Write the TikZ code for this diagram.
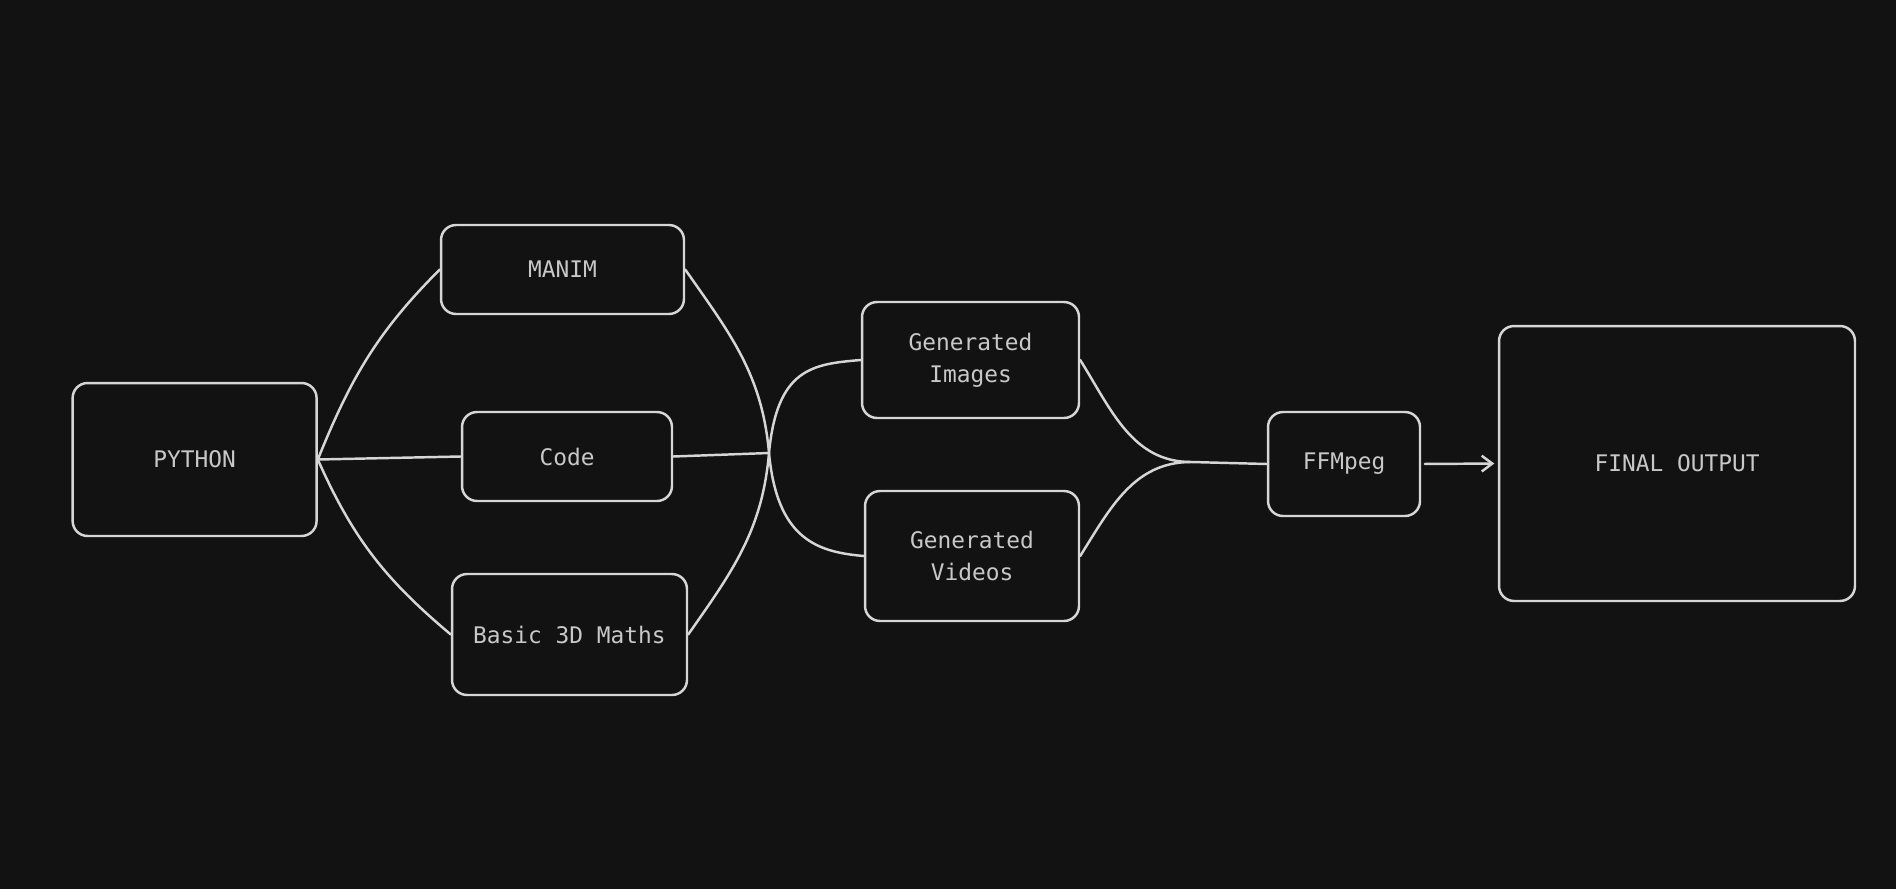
\documentclass[tikz,border=0pt]{standalone}
\usepackage{fontspec}
\setmonofont{DejaVu Sans Mono}
\usetikzlibrary{arrows.meta}
\definecolor{bgdark}{HTML}{121212}
\definecolor{inkgray}{HTML}{D6D6D6}
\definecolor{txtgray}{HTML}{C8C8C8}
\begin{document}
\begin{tikzpicture}[x=0.02cm,y=-0.02cm,line width=1.4pt,line cap=round]
	\tikzset{box/.style={draw=inkgray,rounded corners=0.3cm,inner sep=0pt,align=center,
			text=txtgray,font=\ttfamily\fontsize{13}{18}\selectfont}}
	\fill[bgdark] (0,0) rectangle (1896,889);
	\useasboundingbox (0,0) rectangle (1896,889);
	% boxes
	\node[box,minimum width=4.88cm,minimum height=3.06cm] (python) at (194.6,459.5) {PYTHON};
	\node[box,minimum width=4.86cm,minimum height=1.78cm] (manim) at (562.5,269.5) {MANIM};
	\node[box,minimum width=4.2cm,minimum height=1.78cm] (code) at (567,456.5) {Code};
	\node[box,minimum width=4.7cm,minimum height=2.42cm] (maths) at (569.5,634.5) {Basic 3D Maths};
	\node[box,minimum width=4.34cm,minimum height=2.32cm] (images) at (970.5,360) {Generated\\Images};
	\node[box,minimum width=4.28cm,minimum height=2.6cm] (videos) at (972,556) {Generated\\Videos};
	\node[box,minimum width=3.04cm,minimum height=2.08cm] (ffmpeg) at (1344,464) {FFMpeg};
	\node[box,minimum width=7.12cm,minimum height=5.5cm] (final) at (1677,463.5) {FINAL OUTPUT};
	\coordinate (joinA) at (769,453);
	\coordinate (joinB) at (1191,462);
	% connectors
	\begin{scope}[draw=inkgray]
		\draw (python.east) to[out=68,in=-135] (manim.west);
		\draw (python.east) -- (code.west);
		\draw (python.east) to[out=-66,in=140] (maths.west);
		\draw (manim.east) to[out=-55,in=95] (joinA);
		\draw (code.east) -- (joinA);
		\draw (maths.east) to[out=55,in=-95] (joinA);
		\draw (joinA) .. controls +(8,-85) and +(-48,4) .. (images.west);
		\draw (joinA) .. controls +(8,85) and +(-48,-4) .. (videos.west);
		\draw (images.east) to[out=-58,in=180] (joinB);
		\draw (videos.east) to[out=58,in=180] (joinB);
		\draw (joinB) -- (ffmpeg.west);
		\draw[-{Straight Barb[length=6pt,width=9pt]},shorten <=2pt,shorten >=2pt] (ffmpeg.east) -- (final.west);
	\end{scope}
\end{tikzpicture}
\end{document}
